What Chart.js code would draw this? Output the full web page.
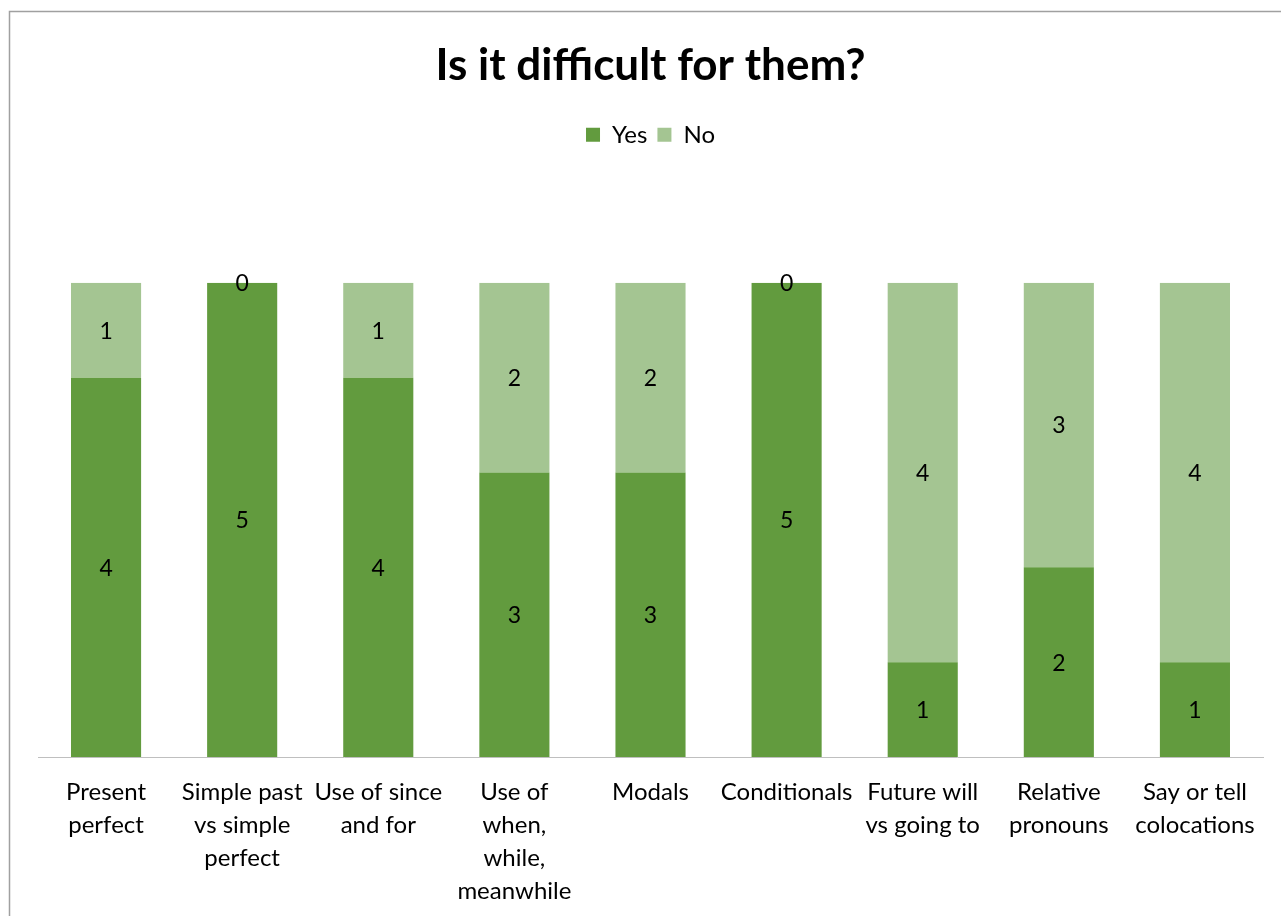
<!DOCTYPE html>
<html>
<head>
<meta charset="utf-8">
<script src="https://cdn.jsdelivr.net/npm/chart.js@4"></script>
<style>
  html, body { margin: 0; padding: 0; background: #fff; }
  #wrap { position: relative; width: 1281px; height: 916px; }
</style>
</head>
<body>
<div id="wrap"><canvas id="c" width="1281" height="916"></canvas></div>
<script>
// Grammar topics surveyed
const categories = [
  ["Present", "perfect"],
  ["Simple past", "vs simple", "perfect"],
  ["Use of since", "and for"],
  ["Use of", "when,", "while,", "meanwhile"],
  ["Modals"],
  ["Conditionals"],
  ["Future will", "vs going to"],
  ["Relative", "pronouns"],
  ["Say or tell", "colocations"]
];
const yesValues = [4, 5, 4, 3, 3, 5, 1, 2, 1];
const noValues  = [1, 0, 1, 2, 2, 0, 4, 3, 4];
const seriesNames = ["Yes", "No"];
const titleText = "Is it difficult for them?";

const FONT = "Lato, 'Open Sans', sans-serif";

// Frame around the chart region
const framePlugin = {
  id: 'frame',
  beforeDraw(chart) {
    const ctx = chart.ctx;
    ctx.save();
    ctx.fillStyle = '#fff';
    ctx.fillRect(0, 0, chart.width, chart.height);
    ctx.strokeStyle = '#a0a0a0';
    ctx.lineWidth = 1.5;
    ctx.beginPath();
    ctx.moveTo(9.5, chart.height);
    ctx.lineTo(9.5, 11.5);
    ctx.lineTo(chart.width, 11.5);
    ctx.stroke();
    ctx.restore();
  }
};

// Extra space below the legend
const legendGapPlugin = {
  id: 'legendGap',
  beforeInit(chart) {
    const origFit = chart.legend.fit;
    chart.legend.fit = function () {
      origFit.call(this);
      this.height += 126;
    };
  }
};

// Value labels in the middle of each stacked segment
const valueLabels = {
  id: 'valueLabels',
  afterDatasetsDraw(chart) {
    const ctx = chart.ctx;
    ctx.save();
    ctx.font = "23px " + FONT;
    ctx.fillStyle = '#000';
    ctx.textAlign = 'center';
    ctx.textBaseline = 'middle';
    chart.data.datasets.forEach((ds, i) => {
      const meta = chart.getDatasetMeta(i);
      meta.data.forEach((bar, j) => {
        const p = bar.getCenterPoint();
        ctx.fillText(String(ds.data[j]), p.x, p.y + 1);
      });
    });
    ctx.restore();
  }
};

new Chart(document.getElementById('c'), {
  type: 'bar',
  data: {
    labels: categories,
    datasets: [
      { label: seriesNames[0], data: yesValues, backgroundColor: '#629b3e', barPercentage: 0.515, categoryPercentage: 1 },
      { label: seriesNames[1], data: noValues, backgroundColor: '#a4c592', barPercentage: 0.515, categoryPercentage: 1 }
    ]
  },
  options: {
    responsive: false,
    animation: false,
    layout: { padding: { top: 0, left: 38, right: 18, bottom: -3 } },
    plugins: {
      title: {
        display: true,
        text: titleText,
        color: '#000',
        font: { family: FONT, size: 44, weight: 'bold', lineHeight: 1.2 },
        padding: { top: 39, bottom: 21 }
      },
      legend: {
        display: true,
        labels: {
          color: '#000',
          font: { family: FONT, size: 24 },
          boxWidth: 14,
          boxHeight: 14,
          padding: 10
        }
      },
      tooltip: { enabled: false }
    },
    scales: {
      x: {
        stacked: true,
        grid: { display: false },
        border: { display: true, color: '#bfbfbf', width: 1 },
        ticks: {
          color: '#000',
          font: { family: FONT, size: 24, lineHeight: 1.375 },
          autoSkip: false,
          maxRotation: 0,
          minRotation: 0,
          padding: 11
        }
      },
      y: {
        stacked: true,
        display: false,
        min: 0,
        max: 5
      }
    }
  },
  plugins: [framePlugin, legendGapPlugin, valueLabels]
});
</script>
</body>
</html>
